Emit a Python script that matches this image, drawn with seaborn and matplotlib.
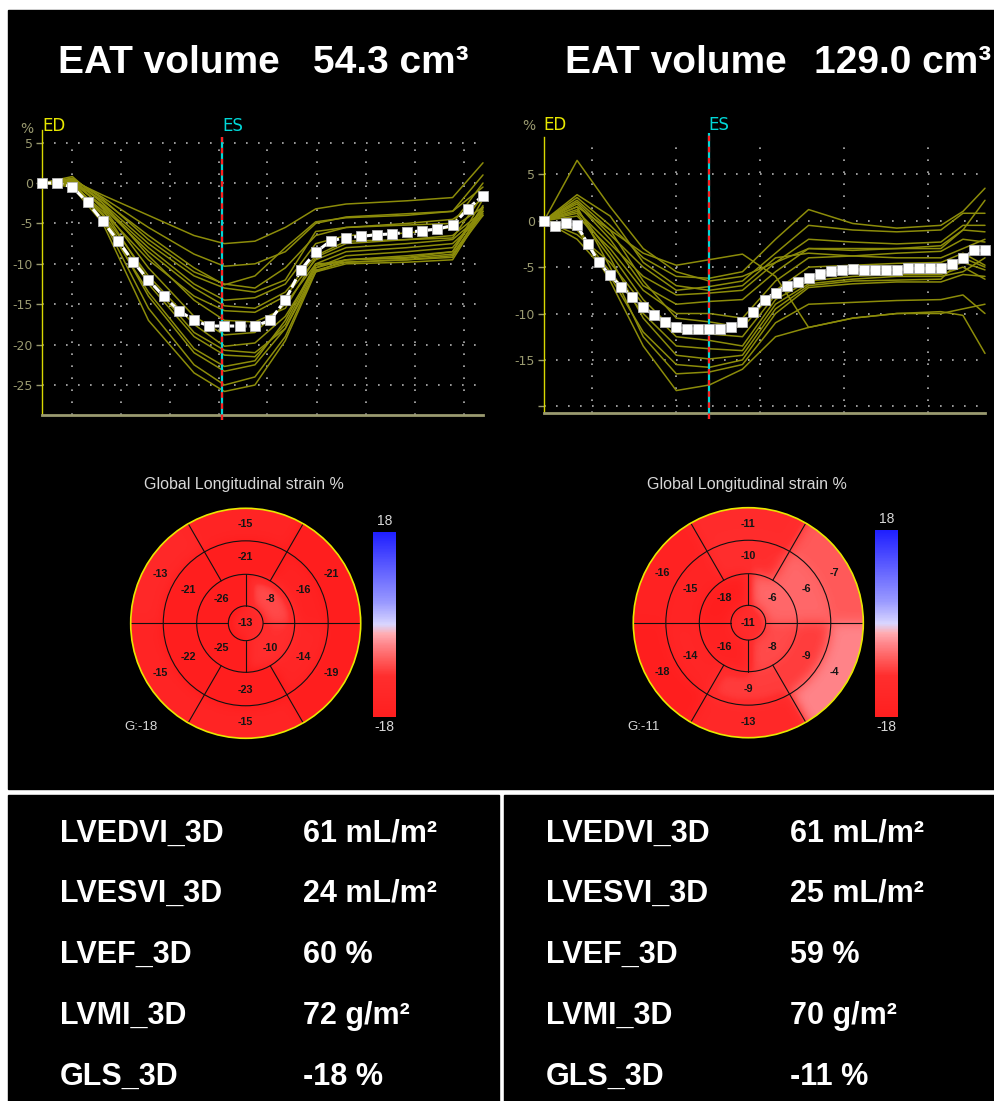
#!/usr/bin/env python3
# Two patients side by side: strain curves, GLS bullseye and 3D echo values

import numpy as np
import pandas as pd
import matplotlib
matplotlib.use("Agg")
import matplotlib.pyplot as plt
import seaborn as sns
from matplotlib.colors import LinearSegmentedColormap, Normalize
from matplotlib.patches import Rectangle, Circle
from matplotlib.cm import ScalarMappable

sns.set_theme(style="ticks")
plt.rcParams["font.family"] = ["Liberation Sans", "DejaVu Sans"]

W, H = 995, 1101

# ---- data: left patient (EAT 54.3) ----
eat_left = "54.3"
mean_left = [0, 0, -0.5, -2.4, -4.75, -7.15, -9.75, -12.0, -14.0, -15.8, -17.0, -17.7,
             -17.7, -17.7, -17.7, -17.0, -14.5, -10.8, -8.55, -7.15, -6.75, -6.6, -6.4,
             -6.3, -6.1, -5.9, -5.7, -5.25, -3.2, -1.55]
es_left = 11.85
kf_left = [0, 2, 4, 7, 10, 12, 14, 16, 18, 20, 24, 27, 29]
seg_left = [
    [0, 0.3, -1.5, -4.0, -6.5, -7.5, -7.2, -5.5, -3.2, -2.6, -2.2, -1.8, 2.5],
    [0, 0.5, -1.8, -5.5, -8.8, -10.3, -10.0, -8.5, -5.0, -4.2, -3.8, -3.5, 1.0],
    [0, 0.2, -2.2, -6.5, -10.5, -12.6, -11.5, -8.0, -4.8, -4.3, -4.0, -3.5, -0.5],
    [0, 0.8, -2.5, -7.5, -11.5, -13.0, -13.5, -12.0, -6.0, -5.5, -5.0, -4.5, -2.0],
    [0, 0.0, -2.8, -8.0, -12.5, -14.5, -14.2, -12.5, -7.5, -6.5, -6.2, -5.5, -3.0],
    [0, 0.3, -3.0, -8.5, -13.0, -15.2, -15.5, -13.5, -9.0, -7.2, -7.0, -6.5, -3.5],
    [0, -0.2, -3.5, -9.5, -14.0, -15.8, -16.0, -14.0, -9.5, -8.0, -7.5, -7.0, -3.8],
    [0, 0.2, -3.0, -10.5, -16.5, -18.8, -18.5, -15.0, -10.0, -8.5, -8.0, -7.5, -4.0],
    [0, 0.0, -3.8, -11.5, -17.5, -20.2, -19.8, -16.5, -10.5, -9.0, -8.5, -8.0, -3.2],
    [0, 0.5, -3.2, -12.0, -18.5, -20.7, -21.0, -18.0, -11.0, -9.5, -9.2, -8.5, -2.8],
    [0, 0.0, -4.0, -12.5, -19.0, -21.3, -21.5, -17.5, -10.2, -9.5, -9.3, -8.8, -3.5],
    [0, -0.3, -4.5, -13.5, -20.5, -22.7, -22.0, -17.0, -10.0, -9.8, -9.5, -9.0, -4.0],
    [0, 0.0, -4.0, -14.0, -21.0, -23.3, -22.5, -18.0, -10.5, -9.5, -9.0, -8.5, -2.0],
    [0, 0.2, -4.5, -15.5, -22.5, -25.0, -24.0, -19.0, -10.8, -9.8, -9.5, -9.2, -3.0],
    [0, -0.5, -5.0, -17.0, -23.5, -25.8, -25.0, -19.5, -11.0, -10.0, -9.8, -9.5, -3.5],
    [0, 0.4, -2.5, -9.0, -14.5, -17.0, -17.2, -15.5, -9.2, -7.5, -7.0, -6.8, -1.5],
    [0, 0.6, -2.0, -7.0, -11.0, -12.5, -13.0, -10.5, -6.5, -5.5, -5.2, -5.0, 0.0],
]
basal_left = [-21, -15, -13, -15, -15, -19]    # 30, 90, 150, 210, 270, 330 deg
mid_left = [-16, -21, -21, -22, -23, -14]
apical_left = [-8, -26, -25, -10]              # 45, 135, 225, 315 deg
apex_left = -13
gls_left = -18
values_left = ["61 mL/m²", "24 mL/m²", "60 %", "72 g/m²", "-18 %"]

# ---- data: right patient (EAT 129.0) ----
eat_right = "129.0"
mean_right = [0, -0.6, -0.3, -0.5, -2.55, -4.5, -5.9, -7.1, -8.2, -9.35, -10.2, -10.9,
              -11.5, -11.65, -11.65, -11.65, -11.65, -11.5, -10.9, -9.85, -8.5, -7.75,
              -7.0, -6.65, -6.2, -5.75, -5.45, -5.3, -5.25, -5.3, -5.3, -5.3, -5.3,
              -5.15, -5.15, -5.15, -5.15, -4.7, -4.05, -3.2, -3.2]
es_right = 15
kf_right = [0, 3, 6, 9, 12, 15, 18, 21, 24, 28, 32, 36, 38, 40]
seg_right = [
    [0, 6.5, 1.5, -3.0, -5.5, -6.5, -6.0, -4.5, -3.0, -3.2, -3.0, -3.0, -1.0, 2.2],
    [0, 1.5, -1.0, -3.5, -4.8, -4.2, -3.6, -6.0, -11.5, -10.5, -10.0, -9.8, -10.2, -14.3],
    [0, 2.5, -0.5, -4.0, -6.0, -6.2, -5.5, -2.0, 1.2, -0.3, -0.8, -0.5, 1.0, 3.5],
    [0, 2.0, -1.5, -5.0, -7.5, -7.1, -6.5, -3.5, -0.5, -1.0, -1.2, -1.0, 0.8, 0.8],
    [0, 1.0, -2.5, -6.0, -8.0, -7.8, -7.5, -4.5, -2.0, -2.3, -2.5, -2.3, -0.5, -0.5],
    [0, 1.8, -2.0, -7.0, -9.0, -8.7, -8.5, -5.5, -3.0, -3.0, -3.0, -2.7, -1.0, -1.2],
    [0, 0.5, -3.0, -7.5, -10.0, -10.0, -10.5, -6.5, -4.0, -3.8, -3.5, -3.3, -2.0, -2.3],
    [0, 2.2, -1.0, -6.5, -10.5, -10.9, -11.5, -7.5, -5.0, -4.8, -4.6, -4.5, -3.5, -4.8],
    [0, 1.2, -3.5, -8.5, -12.0, -12.2, -12.5, -8.0, -6.0, -5.5, -5.3, -5.3, -4.5, -5.3],
    [0, -1.5, -4.5, -9.0, -12.5, -12.9, -13.5, -8.5, -6.5, -6.0, -5.8, -5.8, -5.0, -6.3],
    [0, -1.0, -5.5, -10.0, -13.5, -13.8, -14.0, -9.0, -6.8, -6.3, -6.0, -6.0, -5.5, -4.0],
    [0, 0.8, -4.0, -10.5, -14.5, -14.9, -14.5, -9.5, -7.0, -6.5, -6.4, -6.3, -4.0, -5.0],
    [0, -2.0, -6.0, -12.0, -15.5, -15.8, -15.0, -10.0, -7.2, -6.8, -6.6, -6.6, -5.8, -6.0],
    [0, 1.5, -5.0, -12.5, -16.5, -16.3, -15.5, -11.0, -9.0, -8.8, -8.6, -8.5, -8.0, -10.0],
    [0, -0.5, -6.5, -13.5, -18.3, -17.7, -16.0, -12.5, -11.5, -10.5, -10.0, -10.0, -9.5, -9.0],
    [0, 2.8, 0.5, -4.5, -7.0, -7.5, -7.0, -4.0, -3.5, -3.8, -4.0, -4.0, -3.0, -2.0],
]
basal_right = [-7, -11, -16, -18, -13, -4]
mid_right = [-6, -10, -15, -14, -9, -9]
apical_right = [-6, -18, -16, -8]
apex_right = -11
gls_right = -11
values_right = ["61 mL/m²", "25 mL/m²", "59 %", "70 g/m²", "-11 %"]

row_labels = ["LVEDVI_3D", "LVESVI_3D", "LVEF_3D", "LVMI_3D", "GLS_3D"]

# ---- styling ----
OLIVE = "#8c8c0a"
KHAKI = "#9a9a70"
R_MID, R_API, R_APEX = 0.717, 0.426, 0.151

cmap = LinearSegmentedColormap.from_list("gls", [
    (0.0, (1.0, 0.12, 0.12)),
    (0.22, (1.0, 0.18, 0.18)),
    (0.31, (1.0, 0.36, 0.36)),
    (0.39, (1.0, 0.52, 0.54)),
    (0.45, (1.0, 0.68, 0.70)),
    (0.5, (0.85, 0.84, 1.0)),
    (0.62, (0.6, 0.6, 1.0)),
    (1.0, (0.12, 0.12, 1.0)),
])
norm = Normalize(-18, 18)

fig = plt.figure(figsize=(W / 100, H / 100), dpi=100, facecolor="white")


def px_axes(x0, y0, x1, y1):
    return fig.add_axes([x0 / W, 1 - y1 / H, (x1 - x0) / W, (y1 - y0) / H])


def px_text(x, y, s, **kw):
    fig.text(x / W, 1 - y / H, s, **kw)


def black_box(x0, y0, x1, y1):
    fig.add_artist(Rectangle((x0 / W, 1 - y1 / H), (x1 - x0) / W, (y1 - y0) / H,
                             transform=fig.transFigure, color="black", zorder=0))


black_box(8, 10, 995, 789)
black_box(8, 795, 499, 1101)
black_box(504, 795, 995, 1101)


def strain_panel(box, mean, kf, segs, es, ylim, yticks, ylabels, vgrid, lab):
    ax = px_axes(*box)
    ax.set_facecolor("black")
    rows = []
    for i, s in enumerate(segs):
        for f, v in zip(kf, s):
            rows.append({"frame": f, "strain": v, "seg": i})
    df = pd.DataFrame(rows)
    sns.lineplot(data=df, x="frame", y="strain", units="seg", estimator=None,
                 color=OLIVE, lw=1.1, ax=ax, zorder=2, clip_on=False)
    frames = np.arange(len(mean))
    sns.lineplot(x=frames, y=mean, ax=ax, color="white", lw=2.2,
                 linestyle=(0, (3, 1)), marker="s", markersize=6.5,
                 markerfacecolor="white", markeredgecolor="#b8b8b8",
                 markeredgewidth=0.6, zorder=5, clip_on=False)
    xmax = len(mean) - 1
    ax.set_xlim(0, xmax)
    ax.set_ylim(*ylim)
    # dotted grid
    ax.hlines(yticks, 0, xmax, colors="#b4b4b4", lw=1.2,
              linestyles=[(0, (1, 6.2))], zorder=1)
    ax.vlines(vgrid, ylim[0], lab["vtop"], colors="#b4b4b4", lw=1.2,
              linestyles=[(0, (1, 6.2))], zorder=1)
    # ES marker line
    ax.vlines(es, ylim[0] - 0.6, lab["es_top"], colors="#00d8d8", lw=1.6,
              zorder=3, clip_on=False)
    ax.vlines(es, ylim[0] - 0.6, lab["es_top"], colors="#ff2020", lw=1.6,
              linestyles=[(0, (2.5, 2.5))], zorder=3, clip_on=False)
    for side in ("top", "right"):
        ax.spines[side].set_visible(False)
    ax.spines["left"].set_color("#d8d800")
    ax.spines["left"].set_linewidth(1.0)
    ax.spines["bottom"].set_color(KHAKI)
    ax.spines["bottom"].set_linewidth(2.0)
    ax.set_yticks(yticks)
    ax.set_yticklabels(ylabels, family="DejaVu Sans", fontsize=9)
    ax.tick_params(axis="y", colors=KHAKI, length=4, width=1, pad=2.5)
    ax.set_xticks([])
    ax.set_xlabel("")
    ax.set_ylabel("")
    px_text(*lab["pct"], "%", color=KHAKI, fontsize=10, family="DejaVu Sans",
            ha="center", va="baseline")
    px_text(*lab["ed"], "ED", color="#e8e800", fontsize=12, family="DejaVu Sans",
            ha="left", va="baseline")
    px_text(*lab["es"], "ES", color="#00d8d8", fontsize=12, family="DejaVu Sans",
            ha="left", va="baseline")
    return ax


strain_panel((42, 130, 483, 415), mean_left, kf_left, seg_left, es_left,
             (-28.71, 6.56), [5, 0, -5, -10, -15, -20, -25],
             ["5", "0", "-5", "-10", "-15", "-20", "-25"],
             [1.97, 5.19, 8.42, 11.64, 14.79, 18.08, 21.3, 24.5, 27.75],
             {"pct": (27, 133), "ed": (42, 131), "es": (222, 131), "es_top": 5.7,
              "vtop": 5})
strain_panel((544, 136.7, 985, 413), mean_right, kf_right, seg_right, es_right,
             (-20.72, 9.05), [5, 0, -5, -10, -15, -20],
             ["5", "0", "-5", "-10", "-15", ""],
             [4.35, 11.97, 19.6, 27.2, 34.8],
             {"pct": (529, 130), "ed": (543, 130), "es": (708, 130), "es_top": 9.45,
              "vtop": 8.2})


def blur(a, sigma):
    k = np.arange(-int(3 * sigma), int(3 * sigma) + 1)
    w = np.exp(-0.5 * (k / sigma) ** 2)
    w /= w.sum()
    a = np.apply_along_axis(lambda r: np.convolve(r, w, mode="same"), 1, a)
    return np.apply_along_axis(lambda c: np.convolve(c, w, mode="same"), 0, a)


def bullseye(center, basal, mid, apical, apex, gls, cbar_box, title_xy):
    cx, cy = center
    r = 115
    ax = px_axes(cx - r, cy - r, cx + r, cy + r)
    ax.set_xlim(-1, 1)
    ax.set_ylim(-1, 1)
    ax.axis("off")
    n = 360
    g = np.linspace(-1.35, 1.35, n)
    X, Y = np.meshgrid(g, g)
    R = np.hypot(X, Y)
    T = np.degrees(np.arctan2(Y, X)) % 360
    six = (T // 60).astype(int) % 6
    four = (T // 90).astype(int) % 4
    field = np.array(basal, float)[six]
    m = R <= R_MID
    field[m] = np.array(mid, float)[six[m]]
    m = R <= R_API
    field[m] = np.array(apical, float)[four[m]]
    field[R <= R_APEX] = apex
    field = blur(field, 7)
    im = ax.imshow(field, extent=(-1.35, 1.35, -1.35, 1.35), origin="lower",
                   cmap=cmap, norm=norm, interpolation="bilinear", zorder=1)
    im.set_clip_path(Circle((0, 0), 1, transform=ax.transData))
    for rr in (R_MID, R_API, R_APEX):
        ax.add_patch(Circle((0, 0), rr, fill=False, ec="#111111", lw=0.8, zorder=3))
    ax.add_patch(Circle((0, 0), 1, fill=False, ec="#e8e800", lw=1.2, zorder=4,
                        clip_on=False))
    for ang in (0, 180):
        t = np.radians(ang)
        ax.plot([R_APEX * np.cos(t), np.cos(t)], [R_APEX * np.sin(t), np.sin(t)],
                color="#111111", lw=0.8, zorder=3)
    for ang in (90, 270):
        t = np.radians(ang)
        ax.plot([R_APEX * np.cos(t), R_API * np.cos(t)], [R_APEX * np.sin(t), R_API * np.sin(t)],
                color="#111111", lw=0.8, zorder=3)
    for ang in (60, 120, 240, 300):
        t = np.radians(ang)
        ax.plot([R_API * np.cos(t), np.cos(t)], [R_API * np.sin(t), np.sin(t)],
                color="#111111", lw=0.8, zorder=3)
    kw = dict(ha="center", va="center", fontsize=7.8, fontweight="bold",
              color="#151515", zorder=5)
    for i, v in enumerate(basal):
        t = np.radians(30 + 60 * i)
        ax.text(0.86 * np.cos(t), 0.86 * np.sin(t), str(v), **kw)
    for i, v in enumerate(mid):
        t = np.radians(30 + 60 * i)
        ax.text(0.58 * np.cos(t), 0.58 * np.sin(t), str(v), **kw)
    for i, v in enumerate(apical):
        t = np.radians(45 + 90 * i)
        ax.text(0.30 * np.cos(t), 0.30 * np.sin(t), str(v), **kw)
    ax.text(0, 0, str(apex), **kw)

    cax = px_axes(*cbar_box)
    cb = fig.colorbar(ScalarMappable(norm=norm, cmap=cmap), cax=cax)
    cb.set_ticks([])
    cb.outline.set_visible(False)
    bx = (cbar_box[0] + cbar_box[2]) / 2
    px_text(bx, cbar_box[1] - 11, "18", color="#d8d8d8", fontsize=10,
            ha="center", va="center")
    px_text(bx, cbar_box[3] + 10, "-18", color="#d8d8d8", fontsize=10,
            ha="center", va="center")
    px_text(*title_xy, "Global Longitudinal strain %", color="#d8d8d8",
            fontsize=11.5, ha="center", va="center")
    px_text(cx - 121, 727, f"G:{gls}", color="#d8d8d8", fontsize=9.5,
            ha="left", va="center")


bullseye((245.7, 623.3), basal_left, mid_left, apical_left, apex_left, gls_left,
         (373, 532, 396, 717), (244, 485))
bullseye((748.3, 622.7), basal_right, mid_right, apical_right, apex_right, gls_right,
         (875, 530, 898, 717), (747, 485))

# titles
tkw = dict(color="white", fontsize=28, fontweight="bold", ha="left", va="baseline")
px_text(58, 73, "EAT volume", **tkw)
px_text(313, 73, f"{eat_left} cm³", **tkw)
px_text(565, 73, "EAT volume", **tkw)
px_text(814, 73, f"{eat_right} cm³", **tkw)

# table of 3D values
rkw = dict(color="white", fontsize=22, fontweight="bold", ha="left", va="baseline")
baselines = [842, 902, 963, 1024, 1085]
for lab, vl, vr, yb in zip(row_labels, values_left, values_right, baselines):
    px_text(60, yb, lab, **rkw)
    px_text(303, yb, vl, **rkw)
    px_text(546, yb, lab, **rkw)
    px_text(790, yb, vr, **rkw)

fig.savefig("out.png", dpi=100, facecolor="white")
